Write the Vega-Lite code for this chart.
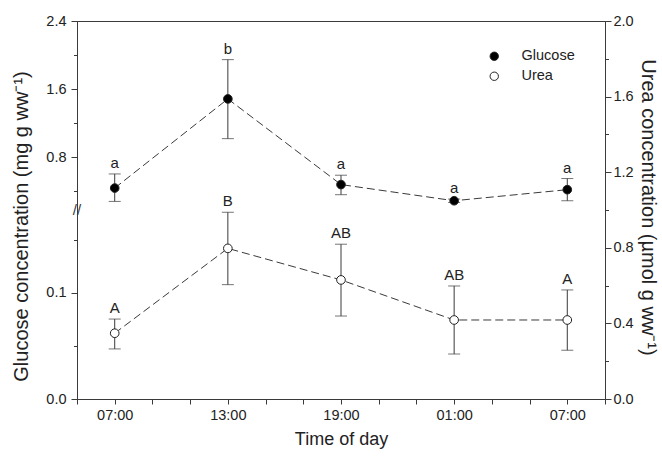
{
  "$schema": "https://vega.github.io/schema/vega-lite/v6.json",
  "width": 528,
  "height": 378,
  "autosize": {"type": "none"},
  "padding": {"left": 77, "top": 21, "right": 57, "bottom": 63},
  "background": "white",
  "config": {
    "view": {"stroke": "#3a3a3a", "strokeWidth": 1},
    "font": "Liberation Sans",
    "axis": {
      "grid": false,
      "domainColor": "#3a3a3a",
      "tickColor": "#3a3a3a",
      "labelColor": "#222222",
      "titleColor": "#222222",
      "labelFont": "Liberation Sans",
      "titleFont": "Liberation Sans",
      "labelFontSize": 14.5,
      "titleFontSize": 20,
      "titleFontWeight": "normal",
      "labelOverlap": false,
      "labelFlush": false,
      "labelBound": false
    }
  },
  "datasets": {
    "stats": [
      {"time": "07:00", "hour": 0, "series": "Glucose", "mean": 0.436, "lower": 0.279, "upper": 0.602, "group": "a"},
      {"time": "13:00", "hour": 6, "series": "Glucose", "mean": 1.484, "lower": 1.017, "upper": 1.946, "group": "b"},
      {"time": "19:00", "hour": 12, "series": "Glucose", "mean": 0.477, "lower": 0.358, "upper": 0.587, "group": "a"},
      {"time": "01:00", "hour": 18, "series": "Glucose", "mean": 0.287, "lower": 0.267, "upper": 0.307, "group": "a"},
      {"time": "07:00", "hour": 24, "series": "Glucose", "mean": 0.417, "lower": 0.287, "upper": 0.548, "group": "a"},
      {"time": "07:00", "hour": 0, "series": "Urea", "mean": 0.348, "lower": 0.265, "upper": 0.423, "group": "A"},
      {"time": "13:00", "hour": 6, "series": "Urea", "mean": 0.797, "lower": 0.605, "upper": 0.988, "group": "B"},
      {"time": "19:00", "hour": 12, "series": "Urea", "mean": 0.63, "lower": 0.439, "upper": 0.819, "group": "AB"},
      {"time": "01:00", "hour": 18, "series": "Urea", "mean": 0.418, "lower": 0.238, "upper": 0.598, "group": "AB"},
      {"time": "07:00", "hour": 24, "series": "Urea", "mean": 0.418, "lower": 0.258, "upper": 0.577, "group": "A"}
    ]
  },
  "layer": [
    {
      "data": {"name": "stats"},
      "transform": [{"filter": "datum.series === 'Glucose'"}],
      "encoding": {
        "x": {
          "field": "hour", "type": "quantitative",
          "scale": {"domain": [-2, 26], "nice": false, "zero": false},
          "axis": {
            "title": "Time of day",
            "titleFontSize": 18,
            "values": [-2, 0, 2, 4, 6, 8, 10, 12, 14, 16, 18, 20, 22, 24, 26],
            "labelExpr": "(datum.value % 6 === 0 && datum.value >= 0 && datum.value <= 24) ? ['07:00','13:00','19:00','01:00','07:00'][datum.value / 6] : ''",
            "tickSize": 5, "labelPadding": 4, "titlePadding": 9
          }
        }
      },
      "layer": [
        {
          "mark": {"type": "line", "strokeDash": [8, 4], "color": "#3a3a3a", "strokeWidth": 1},
          "encoding": {
            "y": {
              "field": "mean", "type": "quantitative",
              "scale": {"domain": [0, 0.178, 0.1781, 2.4], "range": [378, 189, 189, 0], "nice": false, "zero": false},
              "axis": {
                "title": "Glucose concentration (mg g ww⁻¹)", "orient": "left",
                "values": [0, 0.05, 0.1, 0.15, 0.4, 0.8, 1.2, 1.6, 2, 2.4],
                "labelExpr": "indexof([0, 0.1, 0.8, 1.6, 2.4], datum.value) >= 0 ? format(datum.value, '.1f') : ''",
                "tickSize": {"condition": {"test": "indexof([0, 0.1, 0.8, 1.6, 2.4], datum.value) >= 0", "value": 6}, "value": 3.5},
                "labelPadding": 5, "titlePadding": 14, "titleY": 205
              }
            }
          }
        },
        {
          "mark": {"type": "rule", "color": "#3a3a3a", "strokeWidth": 1},
          "encoding": {
            "y": {
              "field": "lower", "type": "quantitative",
              "scale": {"domain": [0, 0.178, 0.1781, 2.4], "range": [378, 189, 189, 0], "nice": false, "zero": false},
              "axis": {
                "title": "Glucose concentration (mg g ww⁻¹)", "orient": "left",
                "values": [0, 0.05, 0.1, 0.15, 0.4, 0.8, 1.2, 1.6, 2, 2.4],
                "labelExpr": "indexof([0, 0.1, 0.8, 1.6, 2.4], datum.value) >= 0 ? format(datum.value, '.1f') : ''",
                "tickSize": {"condition": {"test": "indexof([0, 0.1, 0.8, 1.6, 2.4], datum.value) >= 0", "value": 6}, "value": 3.5},
                "labelPadding": 5, "titlePadding": 14, "titleY": 205
              }
            },
            "y2": {"field": "upper"}
          }
        },
        {
          "mark": {"type": "tick", "orient": "horizontal", "size": 12, "thickness": 1, "color": "#3a3a3a"},
          "encoding": {
            "y": {
              "field": "upper", "type": "quantitative",
              "scale": {"domain": [0, 0.178, 0.1781, 2.4], "range": [378, 189, 189, 0], "nice": false, "zero": false},
              "axis": {
                "title": "Glucose concentration (mg g ww⁻¹)", "orient": "left",
                "values": [0, 0.05, 0.1, 0.15, 0.4, 0.8, 1.2, 1.6, 2, 2.4],
                "labelExpr": "indexof([0, 0.1, 0.8, 1.6, 2.4], datum.value) >= 0 ? format(datum.value, '.1f') : ''",
                "tickSize": {"condition": {"test": "indexof([0, 0.1, 0.8, 1.6, 2.4], datum.value) >= 0", "value": 6}, "value": 3.5},
                "labelPadding": 5, "titlePadding": 14, "titleY": 205
              }
            }
          }
        },
        {
          "mark": {"type": "tick", "orient": "horizontal", "size": 12, "thickness": 1, "color": "#3a3a3a"},
          "encoding": {
            "y": {
              "field": "lower", "type": "quantitative",
              "scale": {"domain": [0, 0.178, 0.1781, 2.4], "range": [378, 189, 189, 0], "nice": false, "zero": false},
              "axis": {
                "title": "Glucose concentration (mg g ww⁻¹)", "orient": "left",
                "values": [0, 0.05, 0.1, 0.15, 0.4, 0.8, 1.2, 1.6, 2, 2.4],
                "labelExpr": "indexof([0, 0.1, 0.8, 1.6, 2.4], datum.value) >= 0 ? format(datum.value, '.1f') : ''",
                "tickSize": {"condition": {"test": "indexof([0, 0.1, 0.8, 1.6, 2.4], datum.value) >= 0", "value": 6}, "value": 3.5},
                "labelPadding": 5, "titlePadding": 14, "titleY": 205
              }
            }
          }
        },
        {
          "mark": {"type": "point", "filled": true, "size": 75, "stroke": "#222222", "strokeWidth": 1, "opacity": 1, "shape": "circle"},
          "encoding": {
            "y": {
              "field": "mean", "type": "quantitative",
              "scale": {"domain": [0, 0.178, 0.1781, 2.4], "range": [378, 189, 189, 0], "nice": false, "zero": false},
              "axis": {
                "title": "Glucose concentration (mg g ww⁻¹)", "orient": "left",
                "values": [0, 0.05, 0.1, 0.15, 0.4, 0.8, 1.2, 1.6, 2, 2.4],
                "labelExpr": "indexof([0, 0.1, 0.8, 1.6, 2.4], datum.value) >= 0 ? format(datum.value, '.1f') : ''",
                "tickSize": {"condition": {"test": "indexof([0, 0.1, 0.8, 1.6, 2.4], datum.value) >= 0", "value": 6}, "value": 3.5},
                "labelPadding": 5, "titlePadding": 14, "titleY": 205
              }
            },
            "fill": {
              "field": "series", "type": "nominal",
              "scale": {"domain": ["Glucose", "Urea"], "range": ["#000000", "#ffffff"]},
              "legend": {
                "title": null, "orient": "none", "legendX": 410, "legendY": 28,
                "symbolType": "circle", "symbolSize": 70, "symbolStrokeColor": "#222222", "symbolStrokeWidth": 1,
                "labelFont": "Liberation Sans", "labelFontSize": 14.5, "labelColor": "#222222", "labelOffset": 20, "rowPadding": 5, "padding": 0
              }
            }
          }
        },
        {
          "mark": {"type": "text", "dy": -6, "baseline": "alphabetic", "align": "center", "fontSize": 15, "color": "#222222", "font": "Liberation Sans"},
          "encoding": {
            "y": {
              "field": "upper", "type": "quantitative",
              "scale": {"domain": [0, 0.178, 0.1781, 2.4], "range": [378, 189, 189, 0], "nice": false, "zero": false},
              "axis": {
                "title": "Glucose concentration (mg g ww⁻¹)", "orient": "left",
                "values": [0, 0.05, 0.1, 0.15, 0.4, 0.8, 1.2, 1.6, 2, 2.4],
                "labelExpr": "indexof([0, 0.1, 0.8, 1.6, 2.4], datum.value) >= 0 ? format(datum.value, '.1f') : ''",
                "tickSize": {"condition": {"test": "indexof([0, 0.1, 0.8, 1.6, 2.4], datum.value) >= 0", "value": 6}, "value": 3.5},
                "labelPadding": 5, "titlePadding": 14, "titleY": 205
              }
            },
            "text": {"field": "group", "type": "nominal"}
          }
        }
      ]
    },
    {
      "data": {"name": "stats"},
      "transform": [{"filter": "datum.series === 'Urea'"}],
      "encoding": {
        "x": {
          "field": "hour", "type": "quantitative",
          "scale": {"domain": [-2, 26], "nice": false, "zero": false},
          "axis": {
            "title": "Time of day",
            "titleFontSize": 18,
            "values": [-2, 0, 2, 4, 6, 8, 10, 12, 14, 16, 18, 20, 22, 24, 26],
            "labelExpr": "(datum.value % 6 === 0 && datum.value >= 0 && datum.value <= 24) ? ['07:00','13:00','19:00','01:00','07:00'][datum.value / 6] : ''",
            "tickSize": 5, "labelPadding": 4, "titlePadding": 9
          }
        }
      },
      "layer": [
        {
          "mark": {"type": "line", "strokeDash": [8, 4], "color": "#3a3a3a", "strokeWidth": 1},
          "encoding": {
            "y": {
              "field": "mean", "type": "quantitative",
              "scale": {"domain": [0, 2], "nice": false, "zero": false},
              "axis": {
                "title": "Urea concentration (µmol g ww⁻¹)", "orient": "right",
                "values": [0, 0.2, 0.4, 0.6, 0.8, 1, 1.2, 1.4, 1.6, 1.8, 2],
                "labelExpr": "round(datum.value * 10) % 4 === 0 ? format(datum.value, '.1f') : ''",
                "tickSize": {"condition": {"test": "round(datum.value * 10) % 4 === 0", "value": 6}, "value": 3.5},
                "labelPadding": 2, "titlePadding": 4, "titleY": 186
              }
            }
          }
        },
        {
          "mark": {"type": "rule", "color": "#3a3a3a", "strokeWidth": 1},
          "encoding": {
            "y": {
              "field": "lower", "type": "quantitative",
              "scale": {"domain": [0, 2], "nice": false, "zero": false},
              "axis": {
                "title": "Urea concentration (µmol g ww⁻¹)", "orient": "right",
                "values": [0, 0.2, 0.4, 0.6, 0.8, 1, 1.2, 1.4, 1.6, 1.8, 2],
                "labelExpr": "round(datum.value * 10) % 4 === 0 ? format(datum.value, '.1f') : ''",
                "tickSize": {"condition": {"test": "round(datum.value * 10) % 4 === 0", "value": 6}, "value": 3.5},
                "labelPadding": 2, "titlePadding": 4, "titleY": 186
              }
            },
            "y2": {"field": "upper"}
          }
        },
        {
          "mark": {"type": "tick", "orient": "horizontal", "size": 12, "thickness": 1, "color": "#3a3a3a"},
          "encoding": {
            "y": {
              "field": "upper", "type": "quantitative",
              "scale": {"domain": [0, 2], "nice": false, "zero": false},
              "axis": {
                "title": "Urea concentration (µmol g ww⁻¹)", "orient": "right",
                "values": [0, 0.2, 0.4, 0.6, 0.8, 1, 1.2, 1.4, 1.6, 1.8, 2],
                "labelExpr": "round(datum.value * 10) % 4 === 0 ? format(datum.value, '.1f') : ''",
                "tickSize": {"condition": {"test": "round(datum.value * 10) % 4 === 0", "value": 6}, "value": 3.5},
                "labelPadding": 2, "titlePadding": 4, "titleY": 186
              }
            }
          }
        },
        {
          "mark": {"type": "tick", "orient": "horizontal", "size": 12, "thickness": 1, "color": "#3a3a3a"},
          "encoding": {
            "y": {
              "field": "lower", "type": "quantitative",
              "scale": {"domain": [0, 2], "nice": false, "zero": false},
              "axis": {
                "title": "Urea concentration (µmol g ww⁻¹)", "orient": "right",
                "values": [0, 0.2, 0.4, 0.6, 0.8, 1, 1.2, 1.4, 1.6, 1.8, 2],
                "labelExpr": "round(datum.value * 10) % 4 === 0 ? format(datum.value, '.1f') : ''",
                "tickSize": {"condition": {"test": "round(datum.value * 10) % 4 === 0", "value": 6}, "value": 3.5},
                "labelPadding": 2, "titlePadding": 4, "titleY": 186
              }
            }
          }
        },
        {
          "mark": {"type": "point", "filled": true, "size": 75, "stroke": "#222222", "strokeWidth": 1, "opacity": 1, "shape": "circle"},
          "encoding": {
            "y": {
              "field": "mean", "type": "quantitative",
              "scale": {"domain": [0, 2], "nice": false, "zero": false},
              "axis": {
                "title": "Urea concentration (µmol g ww⁻¹)", "orient": "right",
                "values": [0, 0.2, 0.4, 0.6, 0.8, 1, 1.2, 1.4, 1.6, 1.8, 2],
                "labelExpr": "round(datum.value * 10) % 4 === 0 ? format(datum.value, '.1f') : ''",
                "tickSize": {"condition": {"test": "round(datum.value * 10) % 4 === 0", "value": 6}, "value": 3.5},
                "labelPadding": 2, "titlePadding": 4, "titleY": 186
              }
            },
            "fill": {
              "field": "series", "type": "nominal",
              "scale": {"domain": ["Glucose", "Urea"], "range": ["#000000", "#ffffff"]},
              "legend": {
                "title": null, "orient": "none", "legendX": 410, "legendY": 28,
                "symbolType": "circle", "symbolSize": 70, "symbolStrokeColor": "#222222", "symbolStrokeWidth": 1,
                "labelFont": "Liberation Sans", "labelFontSize": 14.5, "labelColor": "#222222", "labelOffset": 20, "rowPadding": 5, "padding": 0
              }
            }
          }
        },
        {
          "mark": {"type": "text", "dy": -6, "baseline": "alphabetic", "align": "center", "fontSize": 15, "color": "#222222", "font": "Liberation Sans"},
          "encoding": {
            "y": {
              "field": "upper", "type": "quantitative",
              "scale": {"domain": [0, 2], "nice": false, "zero": false},
              "axis": {
                "title": "Urea concentration (µmol g ww⁻¹)", "orient": "right",
                "values": [0, 0.2, 0.4, 0.6, 0.8, 1, 1.2, 1.4, 1.6, 1.8, 2],
                "labelExpr": "round(datum.value * 10) % 4 === 0 ? format(datum.value, '.1f') : ''",
                "tickSize": {"condition": {"test": "round(datum.value * 10) % 4 === 0", "value": 6}, "value": 3.5},
                "labelPadding": 2, "titlePadding": 4, "titleY": 186
              }
            },
            "text": {"field": "group", "type": "nominal"}
          }
        }
      ]
    },
    {
      "data": {"values": [{"mark": "axis break"}]},
      "mark": {"type": "text", "text": "//", "fontSize": 15, "color": "#3a3a3a", "align": "center", "baseline": "middle", "font": "Liberation Sans"},
      "encoding": {
        "x": {
          "datum": -2, "type": "quantitative",
          "scale": {"domain": [-2, 26], "nice": false, "zero": false},
          "axis": {
            "title": "Time of day",
            "titleFontSize": 18,
            "values": [-2, 0, 2, 4, 6, 8, 10, 12, 14, 16, 18, 20, 22, 24, 26],
            "labelExpr": "(datum.value % 6 === 0 && datum.value >= 0 && datum.value <= 24) ? ['07:00','13:00','19:00','01:00','07:00'][datum.value / 6] : ''",
            "tickSize": 5, "labelPadding": 4, "titlePadding": 9
          }
        },
        "y": {
          "datum": 0.178, "type": "quantitative",
          "scale": {"domain": [0, 0.178, 0.1781, 2.4], "range": [378, 189, 189, 0], "nice": false, "zero": false},
          "axis": null
        }
      }
    }
  ],
  "resolve": {"scale": {"y": "independent"}, "axis": {"y": "independent"}}
}
